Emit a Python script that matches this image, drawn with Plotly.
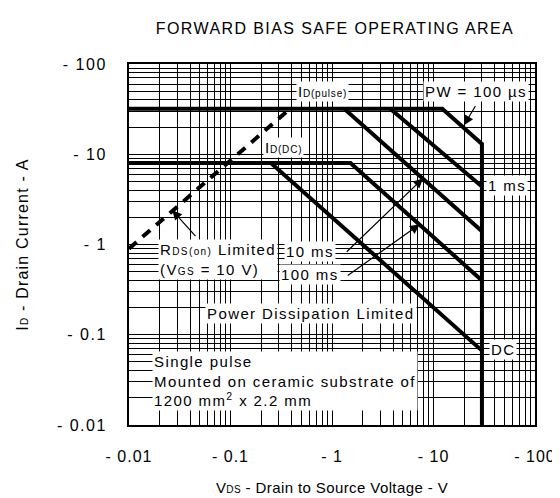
import numpy as np
import plotly.graph_objects as go

# ---- axis ticks ----
x_tick_vals = [0.01, 0.1, 1, 10, 100]
x_tick_text = ["- 0.01", "- 0.1", "- 1", "- 10", "- 100"]
y_tick_vals = [0.01, 0.1, 1, 10, 100]
y_tick_text = ["- 0.01", "- 0.1", "- 1", "- 10", "- 100"]

# ---- SOA boundary curves (V in volts, I in amperes) ----
pw100us_v = [0.01, 12.2, 30, 30]
pw100us_i = [32, 32, 13, 0.01]
pw1ms_v = [3.75, 30]
pw1ms_i = [32, 4.4]
pw10ms_v = [1.32, 30]
pw10ms_i = [32, 1.4]
pw100ms_v = [0.01, 1.52, 30]
pw100ms_i = [8, 8, 0.4]
dc_v = [0.25, 30]
dc_i = [8, 0.0667]
rds_v = [0.01, 0.387]
rds_i = [0.9, 32]


def sp(s, ls=1.4):
    return "<span style='letter-spacing:%spx'>%s</span>" % (ls, s)


def sub(s):
    return "<span style='font-size:10px'>" + s + "</span>"


def full_grid(decades, labels, ls):
    vals, text = [], []
    for k, d in enumerate(decades[:-1]):
        for m in range(1, 10):
            vals.append(round(m * d, 6))
            text.append(sp(labels[k], ls) if m == 1 else "")
    vals.append(decades[-1])
    text.append(sp(labels[-1], ls))
    return vals, text


xv, xt = full_grid(x_tick_vals, x_tick_text, 1.0)
yv, yt = full_grid(y_tick_vals, y_tick_text, 1.5)

FONT = "Liberation Sans, Arial, sans-serif"
fig = go.Figure()

for v, i in [(pw100us_v, pw100us_i), (pw1ms_v, pw1ms_i), (pw10ms_v, pw10ms_i),
             (pw100ms_v, pw100ms_i), (dc_v, dc_i)]:
    fig.add_trace(go.Scatter(x=v, y=i, mode="lines",
                             line=dict(color="black", width=4),
                             showlegend=False, hoverinfo="skip"))
fig.add_trace(go.Scatter(x=rds_v, y=rds_i, mode="lines",
                         line=dict(color="black", width=4, dash="10px,8px"),
                         showlegend=False, hoverinfo="skip"))

L = np.log10

texts = [
    (sp("I" + sub("D(pulse)"), 0.8), 0.81, 50, "center"),
    (sp("I" + sub("D(DC)"), 0.8), 0.21, 11.9, "left"),
    (sp("PW = 100 µs"), 26, 50, "center"),
    (sp("1 ms"), 53, 4.5, "center"),
    (sp("10 ms"), 0.605, 0.83, "center"),
    (sp("100 ms"), 0.605, 0.47, "center"),
    (sp("R" + sub("DS(on)") + " Limited") + "<br>" + sp("(V" + sub("GS") + " = 10 V)"),
     0.0191, 0.68, "left"),
    (sp("Power Dissipation Limited"), 0.62, 0.171, "center"),
    (sp("DC"), 48, 0.069, "center"),
    (sp("Single pulse") + "<br>" + sp("Mounted on ceramic substrate of") + "<br>"
     + sp("1200 mm<sup>2</sup> x 2.2 mm"), 0.017, 0.031, "left"),
]
for t, xx, yy, anc in texts:
    fig.add_annotation(x=L(xx), y=L(yy), text=t, showarrow=False,
                       xanchor=anc, yanchor="middle", align="left",
                       bgcolor="white", borderpad=1,
                       font=dict(family=FONT, size=15, color="black"))

arrows = [
    ((20, 21), (26.4, 35.6)),
    ((7.87, 5.4), (1.35, 0.8)),
    ((7.3, 1.67), (1.38, 0.44)),
    ((0.0267, 2.4), (0.0466, 1.19)),
]
for (hx, hy), (tx, ty) in arrows:
    fig.add_annotation(x=L(hx), y=L(hy), ax=L(tx), ay=L(ty),
                       xref="x", yref="y", axref="x", ayref="y",
                       text="", showarrow=True, arrowhead=2, arrowsize=1.6,
                       arrowwidth=1.2, arrowcolor="black", standoff=0, startstandoff=0)

axis_common = dict(type="log", showgrid=True, gridcolor="black", gridwidth=1,
                   showline=True, linecolor="black", linewidth=2, mirror=True,
                   ticks="", zeroline=False,
                   tickfont=dict(family=FONT, size=16, color="black"))

fig.update_xaxes(range=[-2, 2], tickmode="array", tickvals=xv, ticktext=xt,
                 ticklabelstandoff=16,
                 title=dict(text=sp("V" + sub("DS") + " - Drain to Source Voltage - V", 0.4),
                            font=dict(family=FONT, size=15, color="black"), standoff=18),
                 **axis_common)
fig.update_yaxes(range=[-2, 2], tickmode="array", tickvals=yv, ticktext=yt,
                 ticklabelstandoff=17,
                 title=dict(text=sp("I" + sub("D") + " - Drain Current - A", 1.2),
                            font=dict(family=FONT, size=16, color="black"), standoff=24),
                 **axis_common)

fig.update_layout(
    width=560, height=498,
    margin=dict(l=121, r=26, t=56, b=80),
    paper_bgcolor="white", plot_bgcolor="white",
    title=dict(text=sp("FORWARD BIAS SAFE OPERATING AREA", 1.4), x=327 / 560, xanchor="center",
               y=1 - 20 / 498, yanchor="middle", yref="container",
               font=dict(family=FONT, size=16, color="black")),
)

fig.write_html("out.html")
